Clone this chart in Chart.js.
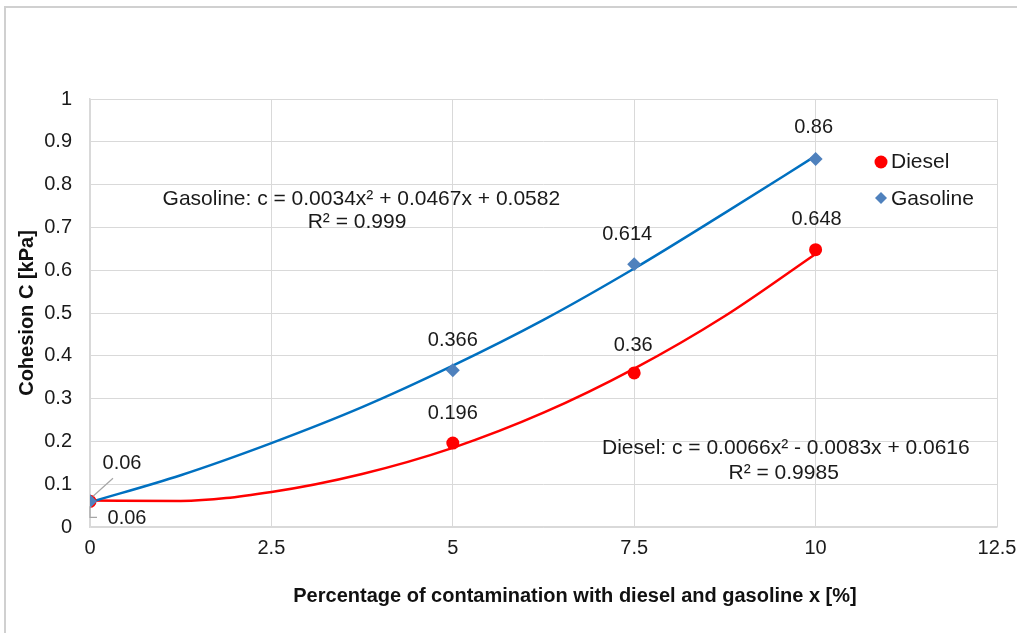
<!DOCTYPE html>
<html>
<head>
<meta charset="utf-8">
<script src="https://cdn.jsdelivr.net/npm/chart.js@4.4.1/dist/chart.umd.min.js"></script>
<style>
  html, body { margin: 0; padding: 0; background: #fff; }
  #wrap { width: 1017px; height: 633px; position: relative; }
</style>
</head>
<body>
<div id="wrap"><canvas id="cohesionChart" width="1017" height="633"></canvas></div>
<script>
// measured points
const contamination = [0, 5, 7.5, 10];
const dieselCohesion = [0.06, 0.196, 0.36, 0.648];
const gasolineCohesion = [0.06, 0.366, 0.614, 0.86];

// trendlines
const trendX = [0, 1.25, 2.5, 3.75, 5, 6.25, 7.5, 8.75, 10];
const dieselTrend = [0.062, 0.061, 0.082, 0.124, 0.185, 0.267, 0.370, 0.493, 0.638];
const gasolineTrend = [0.058, 0.121, 0.196, 0.280, 0.377, 0.484, 0.604, 0.734, 0.867];

const seriesNames = ["Diesel", "Gasoline"];
const gasolineEquation = ["Gasoline: c = 0.0034x\u00b2 + 0.0467x + 0.0582", "R\u00b2 = 0.999"];
const dieselEquation = ["Diesel: c = 0.0066x\u00b2 - 0.0083x + 0.0616", "R\u00b2 = 0.9985"];
const xTitle = "Percentage of contamination with diesel and gasoline x [%]";
const yTitle = "Cohesion C [kPa]";

const FONT = "'Liberation Sans', Arial, sans-serif";
const RED = "#ff0000";
const DIAMOND = "#4f81bd";
const BLUE_LINE = "#0070c0";
const GRID = "#d9d9d9";

const toXY = (xs, ys) => xs.map((x, i) => ({ x: x, y: ys[i] }));

// label offsets per point (pixels from marker)
const gasolineLabelPos = [[32, -38], [0, -30], [-7, -30], [-2, -31]];
const dieselLabelPos = [[37, 17], [0, -30], [-1, -27], [1, -30]];

const frame = {
  id: "frame",
  beforeDraw(chart) {
    const ctx = chart.ctx;
    ctx.save();
    ctx.strokeStyle = "#d0d0d0";
    ctx.lineWidth = 2;
    ctx.strokeRect(5, 7, 1100, 700);
    ctx.restore();
  },
};

const pointLabels = {
  id: "pointLabels",
  afterDatasetsDraw(chart) {
    const ctx = chart.ctx;
    ctx.save();
    ctx.font = "20px " + FONT;
    ctx.fillStyle = "#1a1a1a";
    ctx.textAlign = "center";
    ctx.textBaseline = "middle";
    const drawSet = (idx, values, offsets) => {
      const meta = chart.getDatasetMeta(idx);
      meta.data.forEach((pt, i) => {
        ctx.fillText(String(values[i]), pt.x + offsets[i][0], pt.y + offsets[i][1]);
      });
    };
    drawSet(0, gasolineCohesion, gasolineLabelPos);
    drawSet(1, dieselCohesion, dieselLabelPos);

    // leader lines for the two labels at x = 0
    ctx.strokeStyle = "#a6a6a6";
    ctx.lineWidth = 1.2;
    const g0 = chart.getDatasetMeta(0).data[0];
    ctx.beginPath();
    ctx.moveTo(g0.x + 23, g0.y - 23);
    ctx.lineTo(g0.x + 3, g0.y - 5);
    ctx.stroke();
    const d0 = chart.getDatasetMeta(1).data[0];
    ctx.beginPath();
    ctx.moveTo(d0.x, d0.y + 5);
    ctx.lineTo(d0.x, d0.y + 16);
    ctx.lineTo(d0.x + 7, d0.y + 16);
    ctx.stroke();

    // trendline equations
    const xs = chart.scales.x, ys = chart.scales.y;
    ctx.font = "21px " + FONT;
    ctx.fillText(gasolineEquation[0], xs.getPixelForValue(3.74), ys.getPixelForValue(0.765));
    ctx.fillText(gasolineEquation[1], xs.getPixelForValue(3.68), ys.getPixelForValue(0.711));
    ctx.fillText(dieselEquation[0], xs.getPixelForValue(9.59), ys.getPixelForValue(0.184));
    ctx.fillText(dieselEquation[1], xs.getPixelForValue(9.56), ys.getPixelForValue(0.126));

    // x axis title (sits right of the plot centre in the original)
    ctx.font = "bold 20px " + FONT;
    ctx.fillStyle = "#111";
    ctx.fillText(xTitle, 575, 596);

    // legend inside the plot
    ctx.font = "21px " + FONT;
    ctx.textAlign = "left";
    ctx.fillStyle = "#1a1a1a";
    ctx.fillText(seriesNames[0], 891, 162);
    ctx.fillText(seriesNames[1], 891, 199);
    ctx.fillStyle = RED;
    ctx.beginPath();
    ctx.arc(881, 162, 6.5, 0, Math.PI * 2);
    ctx.fill();
    ctx.fillStyle = DIAMOND;
    ctx.beginPath();
    ctx.moveTo(881, 192);
    ctx.lineTo(887, 198);
    ctx.lineTo(881, 204);
    ctx.lineTo(875, 198);
    ctx.closePath();
    ctx.fill();
    ctx.restore();
  },
};

new Chart(document.getElementById("cohesionChart").getContext("2d"), {
  type: "scatter",
  data: {
    datasets: [
      {
        label: seriesNames[1],
        data: toXY(contamination, gasolineCohesion),
        pointStyle: "rectRot",
        pointRadius: 7,
        backgroundColor: DIAMOND,
        borderColor: DIAMOND,
        borderWidth: 0,
        order: 0,
      },
      {
        label: seriesNames[0],
        data: toXY(contamination, dieselCohesion),
        pointStyle: "circle",
        pointRadius: 6.5,
        backgroundColor: RED,
        borderColor: RED,
        borderWidth: 0,
        order: 1,
      },
      {
        label: "Gasoline trend",
        data: toXY(trendX, gasolineTrend),
        showLine: true,
        pointRadius: 0,
        borderColor: BLUE_LINE,
        borderWidth: 2.5,
        cubicInterpolationMode: "monotone",
        order: 2,
      },
      {
        label: "Diesel trend",
        data: toXY(trendX, dieselTrend),
        showLine: true,
        pointRadius: 0,
        borderColor: RED,
        borderWidth: 2.5,
        cubicInterpolationMode: "monotone",
        order: 3,
      },
    ],
  },
  options: {
    responsive: false,
    animation: false,
    layout: { padding: { left: 0, top: 99, right: 20, bottom: 0 } },
    plugins: {
      legend: { display: false },
      tooltip: { enabled: false },
    },
    scales: {
      x: {
        type: "linear",
        min: 0,
        max: 12.5,
        afterFit: (s) => {
          s.height = 106;
          s.paddingLeft = 0;
          s.paddingRight = 0;
        },
        ticks: { stepSize: 2.5, padding: 9, color: "#1a1a1a", font: { family: FONT, size: 20 } },
        grid: { color: GRID, drawTicks: false },
        border: { color: GRID, width: 1.5 },
        title: { display: false },
      },
      y: {
        min: 0,
        max: 1,
        afterFit: (s) => { s.width = 90; },
        ticks: {
          stepSize: 0.1,
          padding: 18,
          color: "#1a1a1a",
          font: { family: FONT, size: 20 },
          callback: (v) => String(Number(v.toFixed(1))),
        },
        grid: { color: GRID, drawTicks: false },
        border: { color: GRID, width: 1.5 },
        title: {
          display: true,
          text: yTitle,
          color: "#111",
          font: { family: FONT, size: 20, weight: "bold" },
          padding: { top: 15, bottom: 0 },
        },
      },
    },
  },
  plugins: [frame, pointLabels],
});
</script>
</body>
</html>
